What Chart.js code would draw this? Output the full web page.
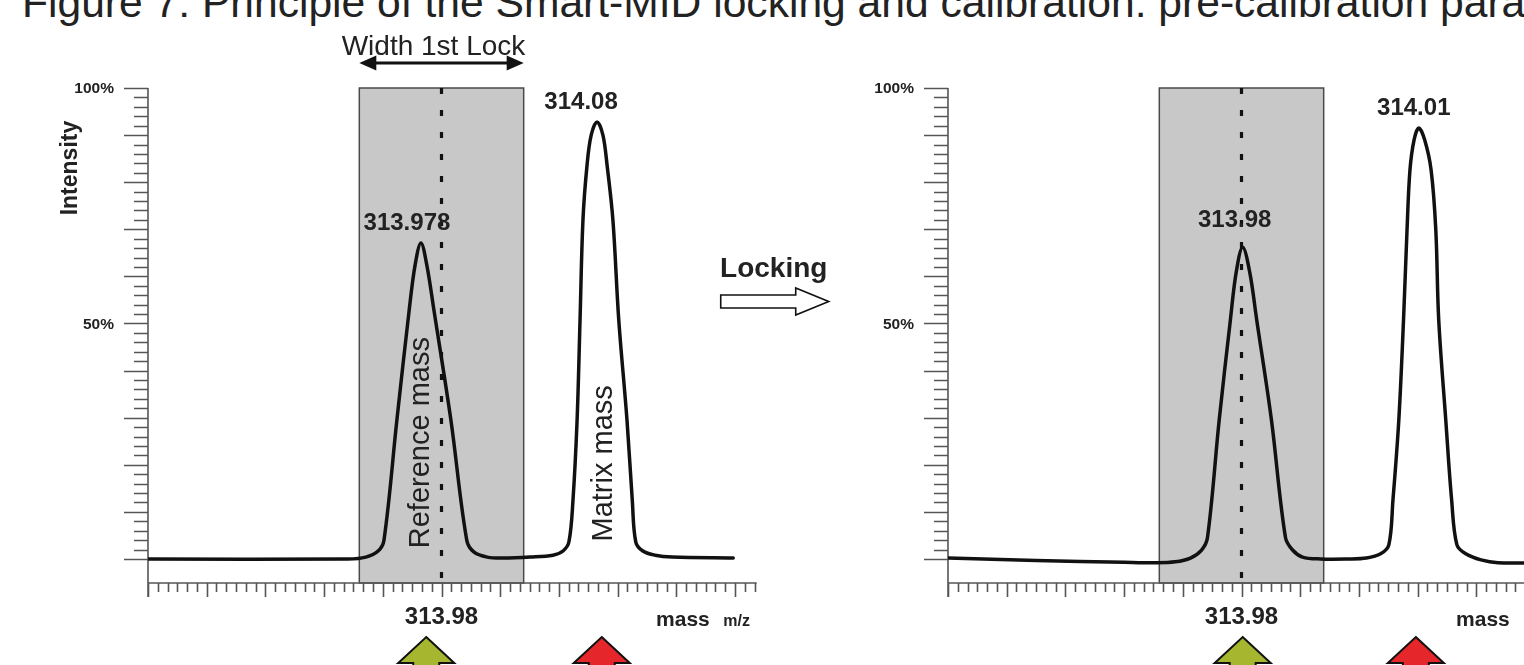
<!DOCTYPE html>
<html>
<head>
<meta charset="utf-8">
<title>Smart-MID locking</title>
<script src="https://cdn.jsdelivr.net/npm/chart.js@4.4.1/dist/chart.umd.min.js"></script>
<style>
  html, body { margin: 0; padding: 0; background: #fff; overflow: hidden; width: 1524px; height: 665px; }
  #title {
    position: absolute; left: 22px; top: -19px;
    font: 42.6px "Liberation Sans", Arial, sans-serif; line-height: 42px;
    color: #222; white-space: nowrap;
  }
  canvas { position: absolute; top: 0; }
  #left { left: 0; }
  #right { left: 800px; }
</style>
</head>
<body>
<div id="title">Figure 7: Principle of the Smart-MID locking and calibration: pre-calibration parameters</div>
<canvas id="left" width="860" height="665"></canvas>
<canvas id="right" width="800" height="665"></canvas>
<script>
(function () {
  "use strict";

  // mass axis in tick units (one major tick = one unit), 313.98 sits on tick 5
  var leftMass = [0, 3.41, 3.71, 3.92, 4.02, 4.24, 4.45, 4.55, 4.65, 4.75,
    4.87, 5.16, 5.43, 5.55, 5.78, 6.05, 6.51, 6.9, 7.07, 7.17,
    7.24, 7.31, 7.36, 7.41, 7.48, 7.55, 7.65, 7.75, 7.82, 7.92,
    8.02, 8.16, 8.25, 8.31, 8.43, 8.64, 8.93, 9.97];
  var leftIntensity = [0, 0, 0.4, 1.7, 4.0, 29.5, 52.9, 62.4, 67.1, 62.4,
    52.9, 29.5, 4.0, 1.5, 0.4, 0.2, 0.4, 0.8, 1.7, 3.6,
    12.5, 29.5, 50.7, 72.0, 83.7, 90.0, 92.8, 90.0, 83.7, 72.0,
    50.7, 29.5, 12.5, 3.6, 1.7, 0.8, 0.4, 0.2];

  var rightMass = [0, 1.5, 3.0, 3.53, 3.87, 4.13, 4.32, 4.42, 4.62, 4.81,
    4.91, 5.02, 5.14, 5.26, 5.51, 5.75, 5.87, 6.04, 6.35, 6.81,
    7.13, 7.37, 7.51, 7.58, 7.68, 7.76, 7.82, 7.87, 7.94, 8.02,
    8.12, 8.23, 8.31, 8.36, 8.48, 8.58, 8.67, 8.82, 9.08, 9.37, 10.0];
  var rightIntensity = [0.2, -0.3, -0.7, -0.8, -0.6, 0.2, 1.9, 4.5, 29.5, 50.7,
    60.9, 66.2, 60.9, 50.7, 29.5, 4.5, 1.9, 0.4, 0, 0,
    0.2, 1.1, 3.0, 12.5, 29.5, 50.7, 69.9, 82.6, 89.0, 91.5,
    89.0, 82.6, 69.9, 50.7, 29.5, 12.5, 3.0, 1.1, -0.2, -0.8, -0.8];

  var leftPeakLabels = ["313.978", "314.08"];
  var leftPeakMass = [4.65, 7.65];
  var leftPeakTop = [67.1, 92.8];
  var rightPeakLabels = ["313.98", "314.01"];
  var rightPeakMass = [5.02, 8.02];
  var rightPeakTop = [66.2, 91.5];

  var lockWindow = [3.6, 6.4];
  var refMass = 5;
  var leftMarkers = [4.74, 7.73];
  var rightMarkers = [5.02, 7.97];

  var yTickValues = [50, 100];
  var yTickLabels = ["50%", "100%"];
  var xTickValues = [5];
  var xTickLabels = ["313.98"];

  // layout (px)
  var AREA_LEFT = 148, AREA_TOP = 88, AREA_BOTTOM = 583, UNIT = 58.7;
  var X_MAX = 10.37, Y_MIN = -5.1;
  var FONT = '"Liberation Sans", Arial, sans-serif';
  var INK = "#222", AXIS = "#555";

  function arrowUp(ctx, cx, top, color) {
    ctx.beginPath();
    ctx.moveTo(cx, top);
    ctx.lineTo(cx + 28, top + 26);
    ctx.lineTo(cx + 13, top + 26);
    ctx.lineTo(cx + 13, top + 80);
    ctx.lineTo(cx - 13, top + 80);
    ctx.lineTo(cx - 13, top + 26);
    ctx.lineTo(cx - 28, top + 26);
    ctx.closePath();
    ctx.fillStyle = color;
    ctx.fill();
    ctx.strokeStyle = "#111";
    ctx.lineWidth = 2;
    ctx.stroke();
  }

  var smartMid = {
    id: "smartmid",
    beforeDatasetsDraw: function (chart, args, o) {
      var ctx = chart.ctx, xs = chart.scales.x, ys = chart.scales.y, a = chart.chartArea;
      var x0 = xs.getPixelForValue(0);
      var top = ys.getPixelForValue(100);
      ctx.save();

      // lock window
      var l = xs.getPixelForValue(lockWindow[0]), r = xs.getPixelForValue(lockWindow[1]);
      ctx.fillStyle = "#c8c8c8";
      ctx.fillRect(l, top, r - l, a.bottom - top);
      ctx.strokeStyle = "#4a4a4a";
      ctx.lineWidth = 1.5;
      ctx.strokeRect(l, top, r - l, a.bottom - top);

      // y axis
      ctx.strokeStyle = AXIS;
      ctx.lineWidth = 1.6;
      ctx.beginPath();
      ctx.moveTo(x0, top);
      ctx.lineTo(x0, a.bottom + 14);
      for (var v = 0; v <= 100; v += 2) {
        var py = Math.round(ys.getPixelForValue(v)) + 0.5;
        ctx.moveTo(x0 - (v % 10 === 0 ? 24 : 14), py);
        ctx.lineTo(x0, py);
      }
      // x axis
      ctx.moveTo(x0, a.bottom);
      ctx.lineTo(xs.getPixelForValue(X_MAX), a.bottom);
      for (var k = 0; k / 6 <= X_MAX + 0.001; k++) {
        var px = Math.round(xs.getPixelForValue(k / 6)) + 0.5;
        ctx.moveTo(px, a.bottom);
        ctx.lineTo(px, a.bottom + (k % 6 === 0 ? 14 : 9));
      }
      ctx.stroke();

      // reference mass marker
      var rx = xs.getPixelForValue(refMass);
      ctx.strokeStyle = "#111";
      ctx.lineWidth = 3.2;
      ctx.setLineDash([6, 16]);
      ctx.beginPath();
      ctx.moveTo(rx, top);
      ctx.lineTo(rx, a.bottom);
      ctx.stroke();
      ctx.setLineDash([]);

      // tick labels
      ctx.fillStyle = INK;
      ctx.font = "bold 15.5px " + FONT;
      ctx.textAlign = "right";
      ctx.textBaseline = "middle";
      yTickValues.forEach(function (val, i) {
        ctx.fillText(yTickLabels[i], x0 - 34, ys.getPixelForValue(val) + 1);
      });
      ctx.font = "bold 24px " + FONT;
      ctx.textAlign = "center";
      xTickValues.forEach(function (val, i) {
        ctx.fillText(xTickLabels[i], xs.getPixelForValue(val), a.bottom + 34);
      });

      // axis titles
      ctx.textBaseline = "alphabetic";
      ctx.textAlign = "right";
      ctx.font = "bold 21px " + FONT;
      ctx.fillText("mass", xs.getPixelForValue(9.57), a.bottom + 43);
      ctx.textAlign = "left";
      ctx.font = "bold 16px " + FONT;
      ctx.fillText("m/z", xs.getPixelForValue(9.8), a.bottom + 43);
      if (o.yTitle) {
        ctx.save();
        ctx.translate(x0 - 77, ys.getPixelForValue(83));
        ctx.rotate(-Math.PI / 2);
        ctx.textAlign = "center";
        ctx.textBaseline = "middle";
        ctx.font = "bold 23px " + FONT;
        ctx.fillText("Intensity", 0, 0);
        ctx.restore();
      }
      ctx.restore();
    },
    afterDatasetsDraw: function (chart, args, o) {
      var ctx = chart.ctx, xs = chart.scales.x, ys = chart.scales.y, a = chart.chartArea;
      ctx.save();
      ctx.fillStyle = INK;

      // peak labels
      ctx.font = "bold 24px " + FONT;
      ctx.textAlign = "center";
      ctx.textBaseline = "middle";
      o.peakLabels.forEach(function (txt, i) {
        ctx.fillText(txt, xs.getPixelForValue(o.peakMass[i]) + o.labelShift[i][0],
          ys.getPixelForValue(o.peakTop[i]) + o.labelShift[i][1]);
      });

      // rotated peak names
      if (o.names) {
        ctx.font = "29px " + FONT;
        o.names.forEach(function (n) {
          ctx.save();
          ctx.translate(xs.getPixelForValue(n[1]), ys.getPixelForValue(n[2]));
          ctx.rotate(-Math.PI / 2);
          ctx.fillText(n[0], 0, 0);
          ctx.restore();
        });
      }

      // markers under the axis
      arrowUp(ctx, xs.getPixelForValue(o.markers[0]), 637, "#a7b62f");
      arrowUp(ctx, xs.getPixelForValue(o.markers[1]), 637, "#e5262b");

      if (o.lockNote) {
        var l = xs.getPixelForValue(lockWindow[0]), r = xs.getPixelForValue(lockWindow[1]);
        var ay = 63;
        ctx.strokeStyle = "#111";
        ctx.fillStyle = "#111";
        ctx.lineWidth = 3;
        ctx.beginPath();
        ctx.moveTo(l + 10, ay);
        ctx.lineTo(r - 10, ay);
        ctx.stroke();
        ctx.beginPath();
        ctx.moveTo(l, ay); ctx.lineTo(l + 17, ay - 7.5); ctx.lineTo(l + 17, ay + 7.5); ctx.closePath();
        ctx.moveTo(r, ay); ctx.lineTo(r - 17, ay - 7.5); ctx.lineTo(r - 17, ay + 7.5); ctx.closePath();
        ctx.fill();
        ctx.fillStyle = INK;
        ctx.font = "28px " + FONT;
        ctx.textBaseline = "alphabetic";
        ctx.fillText("Width 1st Lock", xs.getPixelForValue(refMass) - 8, 55);

        // locking arrow between the panels
        var lx = a.right + 17;
        ctx.font = "bold 28px " + FONT;
        ctx.fillText("Locking", lx, 277);
        ctx.beginPath();
        ctx.moveTo(lx - 53, 295);
        ctx.lineTo(lx + 22, 295);
        ctx.lineTo(lx + 22, 288);
        ctx.lineTo(lx + 55, 301.5);
        ctx.lineTo(lx + 22, 315);
        ctx.lineTo(lx + 22, 308);
        ctx.lineTo(lx - 53, 308);
        ctx.closePath();
        ctx.fillStyle = "#fff";
        ctx.fill();
        ctx.strokeStyle = "#111";
        ctx.lineWidth = 1.6;
        ctx.stroke();
      }
      ctx.restore();
    }
  };

  function points(mass, intensity) {
    return mass.map(function (m, i) {
      return { x: m, y: intensity[i] };
    });
  }

  function panel(id, mass, intensity, opts) {
    var canvas = document.getElementById(id);
    return new Chart(canvas, {
      type: "scatter",
      data: {
        datasets: [{
          data: points(mass, intensity),
          showLine: true,
          borderColor: "#111",
          borderWidth: 3.5,
          borderJoinStyle: "round",
          borderCapStyle: "round",
          pointRadius: 0,
          tension: 0.35,
          fill: false
        }]
      },
      options: {
        responsive: false,
        animation: false,
        devicePixelRatio: 1,
        layout: {
          padding: {
            left: AREA_LEFT,
            top: AREA_TOP,
            bottom: canvas.height - AREA_BOTTOM,
            right: canvas.width - AREA_LEFT - X_MAX * UNIT
          }
        },
        scales: {
          x: { type: "linear", min: 0, max: X_MAX, display: false },
          y: { type: "linear", min: Y_MIN, max: 100, display: false }
        },
        plugins: {
          legend: { display: false },
          tooltip: { enabled: false },
          smartmid: opts
        }
      },
      plugins: [smartMid]
    });
  }

  panel("left", leftMass, leftIntensity, {
    yTitle: true,
    lockNote: true,
    peakLabels: leftPeakLabels,
    peakMass: leftPeakMass,
    peakTop: leftPeakTop,
    labelShift: [[-14, -20], [-16, -20]],
    names: [["Reference mass", 4.65, 24.7], ["Matrix mass", 7.77, 20.3]],
    markers: leftMarkers
  });

  panel("right", rightMass, rightIntensity, {
    yTitle: false,
    lockNote: false,
    peakLabels: rightPeakLabels,
    peakMass: rightPeakMass,
    peakTop: rightPeakTop,
    labelShift: [[-8, -27], [-5, -20]],
    names: null,
    markers: rightMarkers
  });
})();
</script>
</body>
</html>
